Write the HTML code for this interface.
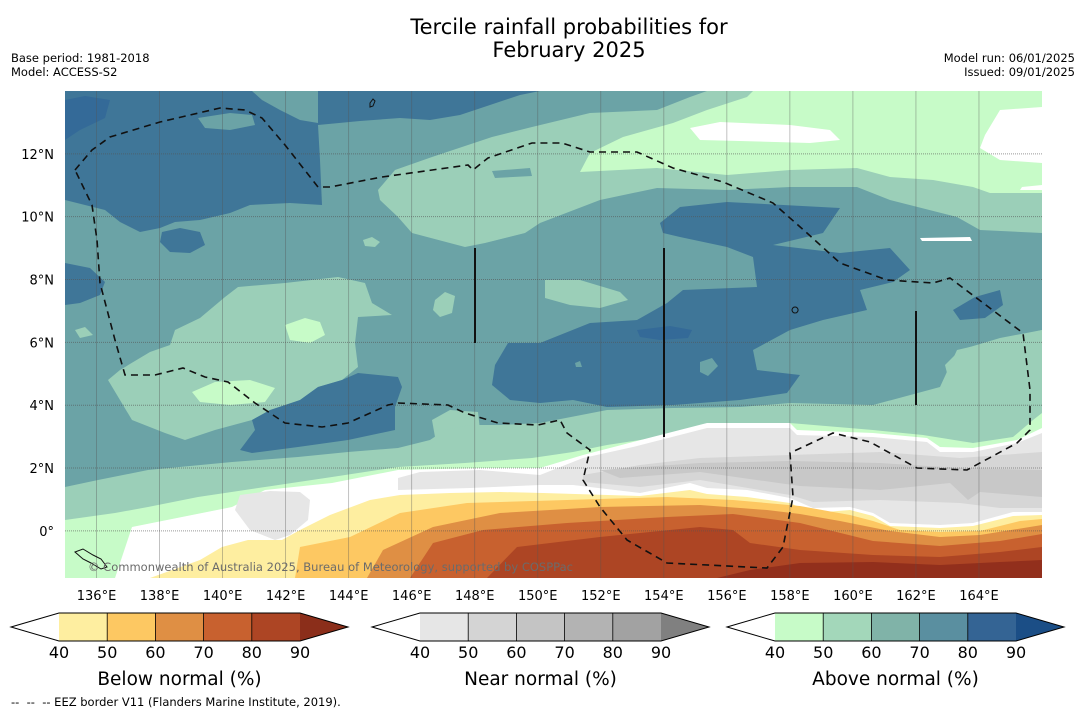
<!DOCTYPE html>
<html><head><meta charset="utf-8"><style>
body{margin:0;background:#fff;width:1085px;height:713px;overflow:hidden}
svg{display:block;font-family:"DejaVu Sans","Liberation Sans",sans-serif}
</style></head><body>
<svg id="s" width="1085" height="713" viewBox="0 0 1085 713">
<text x="569" y="34" font-size="21" text-anchor="middle">Tercile rainfall probabilities for</text>
<text x="569" y="57" font-size="21" text-anchor="middle">February 2025</text>
<text x="11" y="62" font-size="11.5">Base period: 1981-2018</text>
<text x="11" y="76" font-size="11.5">Model: ACCESS-S2</text>
<text x="1075" y="62" font-size="11.5" text-anchor="end">Model run: 06/01/2025</text>
<text x="1075" y="76" font-size="11.5" text-anchor="end">Issued: 09/01/2025</text>
<defs><clipPath id="mc"><rect x="65" y="91" width="977" height="487"/></clipPath></defs>
<g id="map" clip-path="url(#mc)"></g>
<g id="axes"></g>
<g id="cbars"></g>
<text x="11" y="706" font-size="11.5" style="white-space:pre">--  --  -- EEZ border V11 (Flanders Marine Institute, 2019).</text>
</svg>
<script>
const NS="http://www.w3.org/2000/svg";
const lonMin=135, lonMax=166, latMin=-1.5, latMax=14;
const lonTicks=[136,138,140,142,144,146,148,150,152,154,156,158,160,162,164];
const latTicks=[0,2,4,6,8,10,12];
const X=lon=>65+(lon-lonMin)/(lonMax-lonMin)*977;
const Y=lat=>578-(lat-latMin)/(latMax-latMin)*487;
const C={LG:'#c7fbc8',MI:'#9bcfb8',TE:'#6ba3a6',BL:'#3f7698',DB:'#346a98',W:'#ffffff',G1:'#e6e6e6',G2:'#d6d6d6',G3:'#c8c8c8',Y:'#feeea0',O1:'#fdc862',O2:'#df8f44',O3:'#c8612f',O4:'#ad4524',O5:'#922f1c'};
const closed=[
 ['blue-north-west','BL',[[65,91],[540,91],[520,95],[490,105],[460,115],[430,120],[400,118],[360,121],[318,125],[320,160],[322,205],[290,203],[250,205],[230,213],[200,220],[175,222],[160,228],[140,232],[120,222],[105,210],[65,200]]],
 ['dark-blue-corner','DB',[[65,100],[85,96],[110,100],[105,118],[80,130],[65,140]]],
 ['teal-patch-1','TE',[[252,91],[318,91],[318,123],[300,120],[280,110],[262,100]]],
 ['teal-patch-2','TE',[[198,118],[230,113],[252,115],[255,125],[230,130],[205,128]]],
 ['blue-blob-west','BL',[[162,232],[180,228],[200,232],[205,245],[190,253],[170,252],[160,242]]],
 ['blue-west-edge','BL',[[65,263],[90,268],[105,282],[100,295],[80,303],[65,305]]],
 ['mint-north-east','MI',[[378,190],[395,170],[432,157],[492,137],[532,127],[590,113],[657,110],[690,97],[707,91],[1042,91],[1042,233],[980,230],[957,217],[890,200],[857,187],[790,187],[727,190],[657,188],[600,200],[540,223],[525,233],[485,243],[465,247],[412,233],[398,217],[380,200]]],
 ['teal-patch-3','TE',[[492,171],[530,168],[532,176],[495,178]]],
 ['lightgreen-north-east','LG',[[753,91],[1042,91],[1042,193],[990,193],[973,187],[933,180],[890,177],[857,168],[790,170],[727,175],[657,168],[580,172],[590,153],[623,137],[673,123],[707,110],[747,97]]],
 ['white-patch-1','W',[[690,128],[720,122],[790,125],[830,130],[840,140],[810,143],[740,141],[700,140]]],
 ['white-patch-2','W',[[985,135],[1000,110],[1042,107],[1042,163],[1000,160],[980,148]]],
 ['white-patch-3','W',[[1022,187],[1042,185],[1042,190],[1020,190]]],
 ['white-patch-4','W',[[920,238],[970,237],[972,241],[922,241]]],
 ['blue-central','BL',[[660,223],[680,207],[727,202],[840,208],[823,233],[773,245],[840,253],[890,248],[910,270],[893,282],[860,290],[867,310],[823,320],[790,330],[753,350],[757,370],[800,375],[787,393],[740,400],[673,405],[607,407],[573,400],[540,403],[510,400],[492,385],[495,365],[508,343],[540,343],[590,323],[637,320],[667,303],[683,290],[757,287],[753,257],[727,247],[680,237],[663,233]]],
 ['dark-blue-central','DB',[[637,330],[670,326],[692,330],[688,338],[660,340],[640,337]]],
 ['teal-blob-c1','TE',[[700,362],[712,358],[718,366],[708,376],[700,372]]],
 ['teal-blob-c2','TE',[[575,363],[580,361],[582,367],[576,367]]],
 ['blue-east','BL',[[953,310],[975,297],[1000,290],[1003,305],[985,318],[960,320]]],
 ['mint-blob-east','MI',[[1042,330],[1000,338],[960,350],[945,365],[950,385],[1042,395]]],
 ['mint-blob-c','MI',[[545,280],[580,280],[620,292],[628,300],[600,308],[570,305],[545,298]]],
 ['mint-blob-small-1','MI',[[435,300],[445,292],[455,296],[452,313],[440,317],[433,310]]],
 ['mint-blob-small-2','MI',[[363,240],[372,237],[380,242],[375,247],[365,246]]],
 ['mint-blob-west','MI',[[108,380],[120,370],[150,352],[170,345],[175,330],[200,318],[225,297],[238,287],[285,283],[338,277],[365,283],[372,303],[392,315],[358,317],[355,343],[358,367],[342,380],[318,387],[300,400],[265,413],[252,420],[215,430],[185,440],[165,433],[132,420]]],
 ['mint-blob-west-2','MI',[[75,330],[85,327],[93,335],[80,338]]],
 ['lightgreen-blob-1','LG',[[285,325],[305,318],[320,322],[325,335],[310,343],[290,340]]],
 ['lightgreen-blob-2','LG',[[192,392],[215,382],[250,380],[275,388],[265,402],[230,405],[200,402]]],
 ['blue-blob-south','BL',[[252,420],[270,410],[300,400],[318,387],[342,380],[358,373],[398,377],[402,387],[395,407],[395,430],[348,440],[298,447],[252,453],[240,450],[255,430]]],
 ['mint-blob-south','MI',[[432,420],[450,410],[478,412],[480,430],[460,440],[435,437]]]
];
const bands=[
 ['mint-south-band','MI',[[65,487],[98,480],[148,470],[232,462],[298,457],[348,452],[398,448],[430,440],[445,430],[470,425],[500,425],[540,423],[607,410],[673,408],[740,407],[790,403],[873,405],[940,387],[957,350],[1000,340],[1042,330]]],
 ['lightgreen-south-band','LG',[[65,520],[115,513],[148,507],[198,497],[265,487],[332,477],[398,467],[465,463],[532,458],[573,452],[607,445],[707,430],[790,423],[873,430],[923,435],[973,443],[1013,437],[1033,420],[1042,413]]],
 ['white-near-normal-band','W',[[115,578],[132,527],[232,507],[265,490],[332,483],[398,470],[482,468],[540,468],[583,455],[633,442],[707,423],[790,423],[797,430],[873,433],[927,438],[940,447],[973,448],[1017,440],[1042,428]]],
 ['grey-40-band','G1',[[398,478],[420,472],[480,470],[540,475],[583,458],[633,447],[707,428],[790,428],[797,435],[873,437],[927,442],[940,452],[973,452],[1017,443],[1042,433]]]
];
const closed2=[
 ['grey-50-region','G2',[[583,475],[640,465],[700,458],[790,455],[880,452],[960,458],[1042,452],[1042,508],[1000,508],[960,503],[880,500],[813,502],[790,495],[700,480],[640,487],[583,482]]],
 ['grey-60-region','G3',[[600,470],[700,463],[790,461],[880,463],[960,468],[1042,470],[1042,497],[980,492],[968,500],[950,483],[880,490],[800,486],[700,472],[620,478]]],
 ['grey-blob-west','G1',[[240,495],[270,491],[300,492],[310,500],[308,520],[290,535],[275,540],[250,530],[235,510]]]
];
const bands2=[
 ['white-gap-band','W',[[398,490],[470,488],[540,485],[573,485],[640,493],[690,483],[707,488],[747,490],[790,498],[813,508],[850,507],[873,513],[890,523],[940,525],[973,523],[1013,512],[1042,512]]],
 ['below-40-band','Y',[[150,578],[200,560],[222,547],[248,540],[282,540],[300,530],[330,515],[370,500],[400,495],[450,493],[500,492],[543,493],[640,496],[690,490],[707,494],[747,497],[790,503],[813,513],[850,510],[873,516],[890,526],[940,528],[973,526],[1013,516],[1042,515]]],
 ['below-50-band','O1',[[295,578],[300,547],[350,537],[400,513],[467,503],[567,500],[667,497],[733,500],[800,506],[850,515],[873,521],[900,530],[940,532],[980,531],[1020,521],[1042,519]]],
 ['below-60-band','O2',[[367,578],[383,550],[433,527],[500,513],[600,507],[700,505],[767,510],[800,514],[840,521],[890,531],[940,537],[980,535],[1042,525]]],
 ['below-70-band','O3',[[410,578],[433,543],[483,530],[567,523],[667,517],[733,514],[800,523],[873,541],[940,546],[1000,541],[1042,534]]],
 ['below-80-band','O4',[[487,578],[517,547],[600,537],[700,527],[733,530],[750,543],[800,550],[873,555],[940,557],[1000,552],[1042,547]]],
 ['below-90-band','O5',[[717,578],[750,570],[800,563],[873,562],[940,565],[1000,562],[1042,560]]]
];
const eez=[[75,170],[92,150],[110,137],[160,122],[190,115],[220,108],[245,110],[262,118],[285,145],[318,187],[330,187],[382,177],[468,165],[473,170],[488,158],[532,143],[562,143],[590,152],[637,152],[673,168],[723,182],[773,203],[807,233],[840,263],[887,280],[933,283],[950,278],[1023,333],[1030,390],[1030,430],[1017,443],[967,470],[917,468],[870,442],[833,433],[790,453],[793,497],[783,547],[767,568],[667,563],[627,540],[600,507],[583,480],[590,450],[567,433],[560,420],[538,425],[498,423],[465,413],[448,405],[398,403],[388,405],[348,423],[322,427],[285,423],[255,403],[228,382],[205,377],[183,368],[155,375],[125,375],[115,340],[100,283],[97,240],[92,205],[75,170]];
const meridians=[[475,248,343],[664,248,437],[916,311,405]];
const belowCols=['#ffffff','#feeea0','#fdc862','#df8f44','#c8612f','#ad4524','#8b2e1a'];
const nearCols=['#ffffff','#e6e6e6','#d4d4d4','#c4c4c4','#b3b3b3','#a2a2a2','#808080'];
const aboveCols=['#ffffff','#c7fbc8','#a3d7ba','#80b3a8','#5a8fa0','#346494','#1b4e86'];
const cbLevels=[40,50,60,70,80,90];
const cbTitles=['Below normal (%)','Near normal (%)','Above normal (%)'];

const map=document.getElementById('map');
function poly(parent,name,col,pts){
 const p=document.createElementNS(NS,'polygon');
 p.setAttribute('points',pts.map(q=>q.join(',')).join(' '));
 p.setAttribute('fill',C[col]||col);
 
 
 parent.appendChild(p);
}
const bg=document.createElementNS(NS,'rect');
bg.setAttribute('x',65);bg.setAttribute('y',91);bg.setAttribute('width',977);bg.setAttribute('height',487);bg.setAttribute('fill',C.TE);


map.appendChild(bg);
const bandPoly=b=>{const pts=b[2].slice();pts.push([pts[pts.length-1][0],580],[pts[0][0],580]);return pts;};
closed.forEach(c=>poly(map,c[0],c[1],c[2]));
bands.forEach(b=>poly(map,b[0],b[1],bandPoly(b)));
closed2.forEach(c=>poly(map,c[0],c[1],c[2]));
bands2.forEach(b=>poly(map,b[0],b[1],bandPoly(b)));
lonTicks.forEach(l=>{const x=X(l);const g=document.createElementNS(NS,'line');
 g.setAttribute('x1',x);g.setAttribute('x2',x);g.setAttribute('y1',91);g.setAttribute('y2',578);
 g.setAttribute('stroke','#555');g.setAttribute('stroke-width','0.8');g.setAttribute('stroke-opacity','0.45');
 
 
 map.appendChild(g);});
latTicks.forEach(l=>{const y=Y(l);const g=document.createElementNS(NS,'line');
 g.setAttribute('x1',65);g.setAttribute('x2',1042);g.setAttribute('y1',y);g.setAttribute('y2',y);
 g.setAttribute('stroke','#555');g.setAttribute('stroke-width','1');g.setAttribute('stroke-dasharray','1 1');g.setAttribute('stroke-opacity','0.6');
 
 
 map.appendChild(g);});
const pl=document.createElementNS(NS,'polyline');
pl.setAttribute('points',eez.map(q=>q.join(',')).join(' '));
pl.setAttribute('fill','none');pl.setAttribute('stroke','#111');pl.setAttribute('stroke-width','1.6');pl.setAttribute('stroke-dasharray','7 5');


map.appendChild(pl);
meridians.forEach(m=>{const g=document.createElementNS(NS,'line');
 g.setAttribute('x1',m[0]);g.setAttribute('x2',m[0]);g.setAttribute('y1',m[1]);g.setAttribute('y2',m[2]);
 g.setAttribute('stroke','#111');g.setAttribute('stroke-width','2');
 
 
 map.appendChild(g);});
const isl=document.createElementNS(NS,'path');
isl.setAttribute('d','M370,103 l3,-4 l2,2 l-2,5 l-3,1z M75,552 l8,-3 l10,6 l8,4 l6,8 l-6,2 l-10,-6 l-8,-4z M795,313 a3,3 0 1,1 0.1,0');
isl.setAttribute('fill','none');isl.setAttribute('stroke','#111');isl.setAttribute('stroke-width','1');


map.appendChild(isl);
const cp=document.createElementNS(NS,'text');
cp.setAttribute('x',88);cp.setAttribute('y',571);cp.setAttribute('font-size','11.5');cp.setAttribute('fill','#6b6b6b');
cp.setAttribute('textLength','485');
cp.textContent='© Commonwealth of Australia 2025, Bureau of Meteorology, supported by COSPPac';


map.appendChild(cp);
const ax=document.getElementById('axes');
lonTicks.forEach(l=>{const t=document.createElementNS(NS,'text');
 t.setAttribute('x',X(l));t.setAttribute('y',600);t.setAttribute('font-size','13');t.setAttribute('text-anchor','middle');
 t.textContent=l+'°E';
 
 
 ax.appendChild(t);});
latTicks.forEach(l=>{const t=document.createElementNS(NS,'text');
 t.setAttribute('x',54);t.setAttribute('y',Y(l)+5);t.setAttribute('font-size','13');t.setAttribute('text-anchor','end');
 t.textContent=l===0?'0°':l+'°N';
 
 
 ax.appendChild(t);});
const cb=document.getElementById('cbars');
[[belowCols,59],[nearCols,420],[aboveCols,775]].forEach((set,i)=>{
 const cols=set[0],x0=set[1],w=48.2,y0=613,h=28;
 const g=document.createElementNS(NS,'g');
 
 
 cb.appendChild(g);
 poly(g,'colorbar-low-extend',cols[0],[[x0,y0],[x0,y0+h],[x0-48,y0+h/2]]);
 for(let k=0;k<5;k++){poly(g,'colorbar-box',cols[k+1],[[x0+k*w,y0],[x0+(k+1)*w,y0],[x0+(k+1)*w,y0+h],[x0+k*w,y0+h]]);}
 const xe=x0+5*w;
 poly(g,'colorbar-high-extend',cols[6],[[xe,y0],[xe+48,y0+h/2],[xe,y0+h]]);
 const o=document.createElementNS(NS,'polygon');
 o.setAttribute('points',[[x0-48,y0+h/2],[x0,y0],[xe,y0],[xe+48,y0+h/2],[xe,y0+h],[x0,y0+h]].map(q=>q.join(',')).join(' '));
 o.setAttribute('fill','none');o.setAttribute('stroke','#000');o.setAttribute('stroke-width','1');
 
 
 g.appendChild(o);
 for(let k=1;k<5;k++){const l=document.createElementNS(NS,'line');
  l.setAttribute('x1',x0+k*w);l.setAttribute('x2',x0+k*w);l.setAttribute('y1',y0);l.setAttribute('y2',y0+h);l.setAttribute('stroke','#000');l.setAttribute('stroke-width','0.8');
  
  
  g.appendChild(l);}
 cbLevels.forEach((v,k)=>{const t=document.createElementNS(NS,'text');
  t.setAttribute('x',x0+k*w);t.setAttribute('y',658);t.setAttribute('font-size','16');t.setAttribute('text-anchor','middle');
  t.textContent=v;
  
  
  g.appendChild(t);});
 const tt=document.createElementNS(NS,'text');
 tt.setAttribute('x',x0+2.5*w);tt.setAttribute('y',685);tt.setAttribute('font-size','18.5');tt.setAttribute('text-anchor','middle');
 tt.textContent=cbTitles[i];
 
 
 g.appendChild(tt);
});
</script>
</body></html>
